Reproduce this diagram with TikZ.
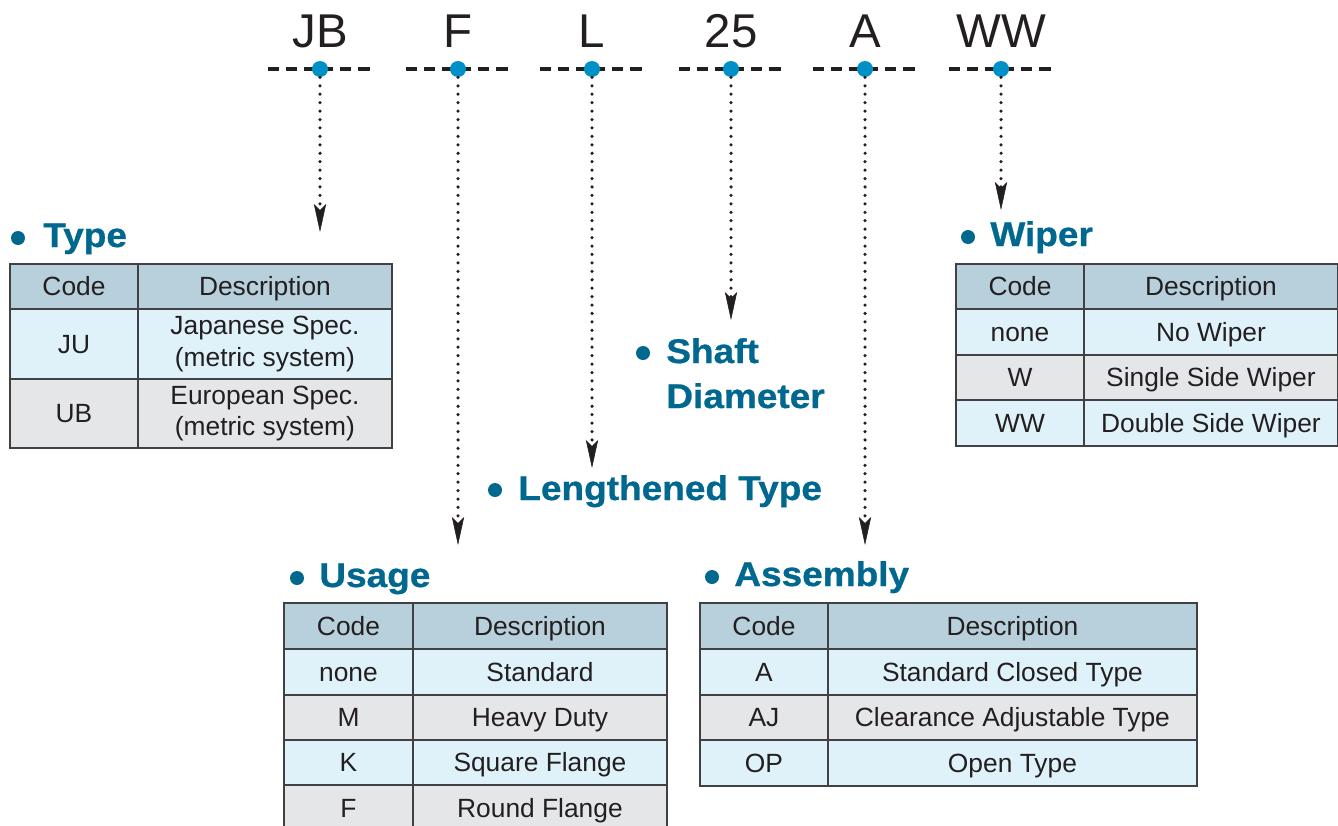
\documentclass[tikz,border=0pt]{standalone}
\usepackage{fontspec}
\setmainfont{Liberation Sans}
\newfontfamily\headfont[FakeStretch=1.08, FakeBold=0.8]{Liberation Sans Bold}
\usetikzlibrary{positioning,calc}
\usetikzlibrary{arrows.meta}

\definecolor{headblue}{HTML}{00688F}
\definecolor{dotblue}{HTML}{0090C8}
\definecolor{inkgray}{HTML}{231F20}
\definecolor{rulegray}{HTML}{414042}
\definecolor{hdrfill}{HTML}{B7D0DC}
\definecolor{rowblue}{HTML}{DFF2FA}
\definecolor{rowgray}{HTML}{E5E6E8}

\tikzset{
  codetxt/.style={anchor=base, text=inkgray, font=\fontsize{27}{30}\selectfont},
  codedot/.style={circle, fill=dotblue, minimum size=0.32cm, inner sep=0pt},
  dashline/.style={draw=inkgray, line width=2pt, dash pattern=on 6.3pt off 4pt},
  dotarrow/.style={draw=inkgray, line width=2pt, line cap=round, dash pattern=on 0pt off 4.8pt,
    -{Stealth[length=16pt, width=7pt, inset=3.5pt, line width=0.3pt]}},
  headdot/.style={circle, fill=headblue, minimum size=0.28cm, inner sep=0pt},
  headtxt/.style={anchor=base west, inner sep=0pt, text=headblue, font=\headfont\fontsize{19.5}{24}\selectfont},
  cell/.style={draw=rulegray, line width=1.1pt, text=inkgray, font=\fontsize{15}{18}\selectfont,
    align=center, inner sep=0pt, outer sep=0pt, anchor=north west, text height=12pt, text depth=1.3pt},
  twoline/.style={text height=, text depth=}
}

\begin{document}
\begin{tikzpicture}[x=0.02cm, y=-0.02cm]
  \path[use as bounding box, clip] (0,0) rectangle (1338,825);

  % part number and leader arrows
  \foreach \n/\x/\ty in {JB/320/232, F/458/545, L/592/468, 25/731/320, A/865/545, WW/1001/210} {
    \draw[dashline] (\x-52, 69) -- (\x+52, 69);
    \node[codedot] (d\n) at (\x, 69) {};
    \node[codetxt] (c\n) at (\x, 47) {\n};
    \coordinate (t\n) at (\x, \ty);
    \draw[dotarrow] (d\n) -- (t\n);
  }

  % headings
  \node[headdot] (bType) at (18, 238) {};
  \node[headtxt] (hType) at (43, 247) {Type};
  \node[headdot] (bWiper) at (968, 237) {};
  \node[headtxt] (hWiper) at (990, 246) {Wiper};
  \node[headdot] (bShaft) at (643, 353) {};
  \node[headtxt] (hShaft) at (666, 363) {Shaft};
  \node[headtxt] (hShaftb) at (666, 408) {Diameter};
  \node[headdot] (bLength) at (495, 490) {};
  \node[headtxt] (hLength) at (518, 500) {Lengthened Type};
  \node[headdot] (bUsage) at (297, 578) {};
  \node[headtxt] (hUsage) at (319, 587) {Usage};
  \node[headdot] (bAssy) at (712, 577) {};
  \node[headtxt] (hAssy) at (734, 586) {Assembly};

  % Type table
  \foreach \i/\yt/\h/\fl/\ks/\cd/\ds in {0/264/0.9/hdrfill//Code/Description,
      1/309/1.4/rowblue/twoline/JU/{Japanese Spec.\\(metric system)},
      2/379/1.38/rowgray/twoline/UB/{European Spec.\\(metric system)}} {
    \node[cell, fill=\fl, minimum width=2.56cm, minimum height=\h cm] (type-c\i) at (10, \yt) {\cd};
    \node[cell, fill=\fl, minimum width=5.08cm, minimum height=\h cm, right=0pt of type-c\i, \ks] (type-d\i) {\ds};
  }

  % Wiper table
  \foreach \i/\yt/\h/\fl/\cd/\ds in {0/264/0.9/hdrfill/Code/Description,
      1/309/0.92/rowblue/none/No Wiper,
      2/355/0.9/rowgray/W/Single Side Wiper,
      3/400/0.92/rowblue/WW/Double Side Wiper} {
    \node[cell, fill=\fl, minimum width=2.56cm, minimum height=\h cm] (wip-c\i) at (956, \yt) {\cd};
    \node[cell, fill=\fl, minimum width=5.08cm, minimum height=\h cm, right=0pt of wip-c\i] (wip-d\i) {\ds};
  }

  % Usage table
  \foreach \i/\yt/\h/\fl/\cd/\ds in {0/603/0.92/hdrfill/Code/Description,
      1/649/0.92/rowblue/none/Standard,
      2/695/0.9/rowgray/M/Heavy Duty,
      3/740/0.9/rowblue/K/Square Flange,
      4/785/0.92/rowgray/F/Round Flange} {
    \node[cell, fill=\fl, minimum width=2.58cm, minimum height=\h cm] (use-c\i) at (284, \yt) {\cd};
    \node[cell, fill=\fl, minimum width=5.08cm, minimum height=\h cm, right=0pt of use-c\i] (use-d\i) {\ds};
  }

  % Assembly table
  \foreach \i/\yt/\h/\fl/\cd/\ds in {0/603/0.92/hdrfill/Code/Description,
      1/649/0.92/rowblue/A/Standard Closed Type,
      2/695/0.9/rowgray/AJ/Clearance Adjustable Type,
      3/740/0.92/rowblue/OP/Open Type} {
    \node[cell, fill=\fl, minimum width=2.56cm, minimum height=\h cm] (asm-c\i) at (700, \yt) {\cd};
    \node[cell, fill=\fl, minimum width=7.38cm, minimum height=\h cm, right=0pt of asm-c\i] (asm-d\i) {\ds};
  }
\end{tikzpicture}
\end{document}
